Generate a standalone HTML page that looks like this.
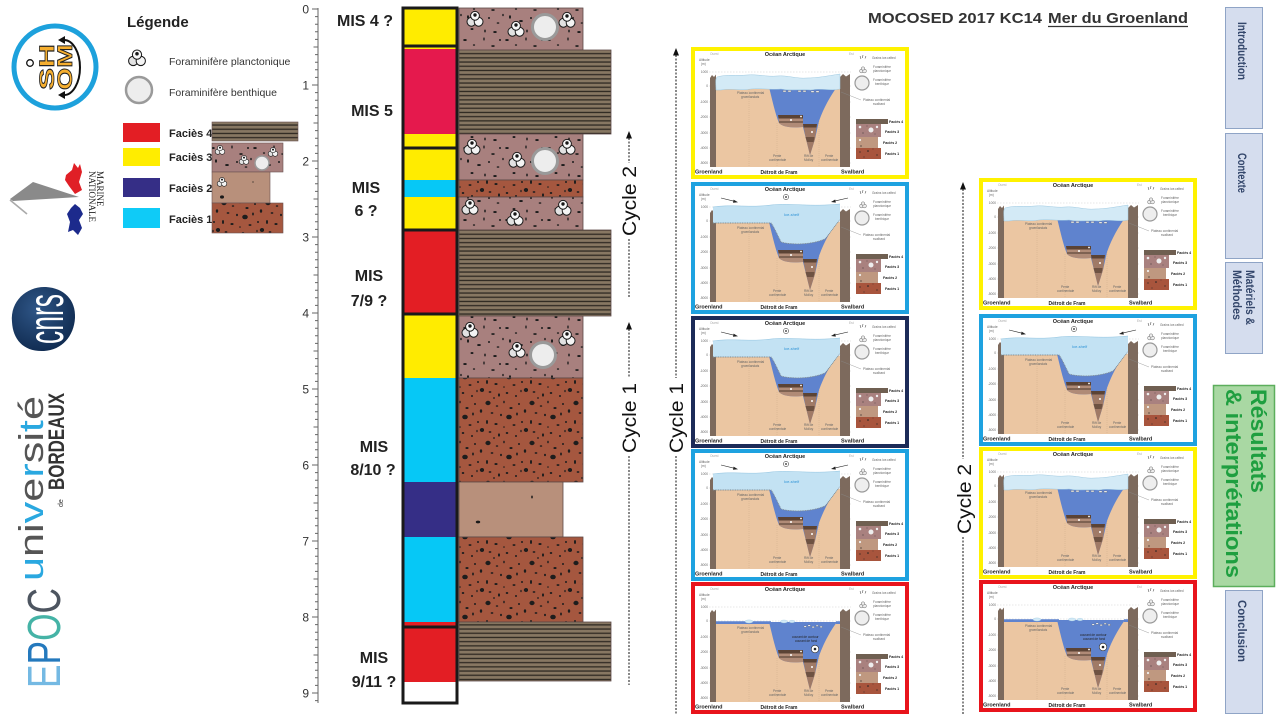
<!DOCTYPE html>
<html><head><meta charset="utf-8"><style>html,body{margin:0;padding:0;background:#fff;}svg{display:block;}</style></head>
<body>
<svg xmlns="http://www.w3.org/2000/svg" xmlns:xlink="http://www.w3.org/1999/xlink" width="1280" height="720" viewBox="0 0 1280 720" font-family="'Liberation Sans',sans-serif">
<defs>
<pattern id="st" width="10" height="4.2" patternUnits="userSpaceOnUse"><rect width="10" height="4.2" fill="#877762"/><rect y="2.6" width="10" height="1.3" fill="#2F2922"/></pattern>
<pattern id="p3" width="42" height="36" patternUnits="userSpaceOnUse"><rect width="42" height="36" fill="#A8807E"/><g fill="#1c1c1c"><ellipse cx="3" cy="4" rx="1.8" ry="1"/><ellipse cx="12" cy="9" rx="1.2" ry=".8"/><ellipse cx="22" cy="3" rx=".7" ry="1.6"/><ellipse cx="31" cy="10" rx="1.8" ry=".9"/><ellipse cx="38" cy="4" rx="1" ry="1"/><ellipse cx="6" cy="17" rx="1" ry="1.7"/><ellipse cx="17" cy="21" rx="1.9" ry="1"/><ellipse cx="27" cy="18" rx="1" ry="1"/><ellipse cx="36" cy="23" rx="1.4" ry=".8"/><ellipse cx="10" cy="29" rx="1.5" ry="1"/><ellipse cx="23" cy="31" rx=".8" ry="1.5"/><ellipse cx="33" cy="32" rx="1.8" ry="1"/><ellipse cx="41" cy="15" rx=".8" ry="1.3"/></g></pattern>
<pattern id="p1" width="44" height="40" patternUnits="userSpaceOnUse"><rect width="44" height="40" fill="#A5573F"/><g fill="#1d1d1d"><ellipse cx="4" cy="3" rx="2.6" ry="2.2"/><ellipse cx="13" cy="6" rx="1.3" ry=".8"/><ellipse cx="20" cy="2" rx=".8" ry="1.4"/><ellipse cx="27" cy="8" rx="1.6" ry="1"/><ellipse cx="35" cy="4" rx="1" ry="1"/><ellipse cx="41" cy="11" rx="1.2" ry="1.8"/><ellipse cx="8" cy="13" rx="1.4" ry=".9"/><ellipse cx="17" cy="15" rx="1" ry="1.2"/><ellipse cx="25" cy="17" rx="2.8" ry="2.3"/><ellipse cx="33" cy="14" rx=".9" ry="1.5"/><ellipse cx="3" cy="22" rx="1" ry="2"/><ellipse cx="12" cy="24" rx="1.6" ry="1"/><ellipse cx="20" cy="27" rx=".8" ry=".8"/><ellipse cx="30" cy="25" rx="1.5" ry=".9"/><ellipse cx="38" cy="22" rx="1" ry="1"/><ellipse cx="42" cy="30" rx="2.2" ry="2"/><ellipse cx="6" cy="32" rx="1.4" ry=".9"/><ellipse cx="15" cy="35" rx="1" ry="1.6"/><ellipse cx="23" cy="33" rx="1.3" ry="1"/><ellipse cx="32" cy="36" rx="1" ry="1"/><ellipse cx="37" cy="31" rx=".7" ry="1.3"/><ellipse cx="10" cy="38" rx=".9" ry=".9"/></g></pattern>
<radialGradient id="cn" cx=".4" cy=".35" r=".7"><stop offset="0" stop-color="#2F5687"/><stop offset="1" stop-color="#0F2A4F"/></radialGradient>
<g id="pf" stroke="#1a1a1a" stroke-width="1"><circle cx="-3.6" cy="2.8" r="4.4" fill="#e2e2e2"/><circle cx="3.6" cy="2.8" r="4.4" fill="#f4f4f4"/><circle cx="0" cy="-3.2" r="4.4" fill="#f8f8f8"/><circle cx="0" cy="-4" r="1.2" fill="#111"/></g>
<g id="pb">
<rect width="218" height="132" fill="#fff"/>
<path d="M18 25H160M18 39H160M18 55H160M18 70H160M18 86H160M18 101H160M18 116H160" stroke="#cfcfcf" stroke-width=".5" stroke-dasharray="1.5 1.5"/>
<rect x="22" y="40" width="128" height="80" fill="#EBC6A2"/>
<path d="M58 42V120M86 76V120M128 74V120" stroke="#c9a888" stroke-width=".4" stroke-dasharray="1 1"/>
<path d="M78 40H146C140 48 133 60 128 74L124 92L119 108L115 92L112 80C100 81 92 80 88 76C84 66 81 52 78 40Z" fill="#5F83CE"/>
<path d="M87 68H112V80C100 81 92 80 88 76Z" fill="#B08B77"/>
<path d="M87 68H112V71.5H87.6Z" fill="#5B4335"/>
<path d="M88 74H112V76H88Z" fill="#7E6252"/>
<path d="M112 77H126L124 92L119 108L115 92Z" fill="#A07A66"/>
<path d="M112 77H126L125.5 80.5H112.5Z" fill="#5B4335"/>
<path d="M114.5 90H123.5L122.6 95H116Z" fill="#6E5242"/>
<circle cx="100" cy="73" r="1" fill="#fff"/><circle cx="121" cy="85" r="1" fill="#fff"/><circle cx="110" cy="69.5" r=".9" fill="#fff"/>
<path d="M19 120V31L21 28L23 30L25 27.5V120Z" fill="#7D6A5D"/>
<path d="M149 120V30L152 27L155 29.5L159 27V120Z" fill="#7D6A5D"/>
<path d="M169 9l1 3M172 8l-.5 3M175 9l-1 2.5" stroke="#333" stroke-width=".5"/>
<g stroke="#333" stroke-width=".35" fill="#eee"><circle cx="170.5" cy="24" r="1.9"/><circle cx="173.5" cy="24" r="1.9"/><circle cx="172" cy="21.5" r="1.7"/></g>
<circle cx="171" cy="36" r="7" fill="#eee" stroke="#999" stroke-width="1.2"/>
<path d="M150 45L170 53" stroke="#888" stroke-width=".4"/>
<rect x="165" y="72" width="32" height="5" fill="#6F5F51"/>
<rect x="165" y="77" width="25" height="13" fill="#A9817F"/>
<rect x="165" y="90" width="22" height="11" fill="#BF9880"/>
<rect x="165" y="101" width="25" height="11" fill="#A8553D"/>
<circle cx="180" cy="83" r="2.5" fill="#eee"/><circle cx="169" cy="80" r="1.3" fill="#eee"/><circle cx="186" cy="80" r="1.2" fill="#eee"/><circle cx="169" cy="93" r="1.1" fill="#eee"/>
<g fill="#222"><circle cx="172" cy="86" r=".5"/><circle cx="176" cy="79" r=".4"/><circle cx="184" cy="87" r=".4"/><circle cx="170" cy="99" r=".6"/><circle cx="169" cy="105" r=".6"/><circle cx="177" cy="104" r=".8"/><circle cx="186" cy="108" r=".6"/><circle cx="173" cy="110" r=".5"/><circle cx="182" cy="102" r=".4"/></g>
</g>
<g id="ia">
<path d="M25 43C25 37 24 32 26 30C36 27 46 29 56 28C66 27 76 30 86 29C96 28 106 32 116 31C126 31 136 29 149 27V42C140 44 130 41 120 43C110 42 100 44 90 42C80 43 70 41 60 42C50 44 40 41 30 43Z" fill="#D3EAF6" stroke="#9FCAE2" stroke-width=".5"/>
<g fill="#fff" stroke="#666" stroke-width=".3"><rect x="92" y="43.5" width="3" height="1.4"/><rect x="97" y="43.5" width="3" height="1.4"/><rect x="107" y="43.5" width="3" height="1.4"/><rect x="112" y="43.5" width="3" height="1.4"/><rect x="120" y="44" width="3" height="1.4"/><rect x="125" y="44" width="3" height="1.4"/></g>
</g>
<g id="ib">
<path d="M22 25C40 22 60 26 80 23C100 21 120 25 149 22V38C145 42 140 50 134 57C120 63 100 63 90 60C86 52 83 45 80 41H22Z" fill="#C3E2F3"/>
<path d="M22 25C40 22 60 26 80 23C100 21 120 25 149 22" fill="none" stroke="#8FC3E0" stroke-width=".5"/>
<path d="M22 41H80C83 45 86 52 90 60C100 63 120 63 134 57C140 50 145 42 149 38" fill="none" stroke="#7d8a92" stroke-width=".9" stroke-dasharray="1 .7"/>
<path d="M30 16L44 19.4" stroke="#222" stroke-width=".6"/><path d="M47 20.2L42.6 17.6L42 20.7Z" fill="#222"/>
<path d="M157 16L143 19.2" stroke="#222" stroke-width=".6"/><path d="M140 20L144.2 17.5L144.8 20.6Z" fill="#222"/>
<circle cx="95" cy="15" r="2.6" fill="#fff" stroke="#222" stroke-width=".5"/><circle cx="95" cy="15" r=".9" fill="#222"/>
</g>
<g id="ic">
<path d="M25 39.3H80V42H25ZM145 39.3H149V42H145Z" fill="#5F83CE"/>
<g fill="#D3EAF6" stroke="#8fbfdc" stroke-width=".3"><ellipse cx="58" cy="39.5" rx="4" ry="1.6"/><ellipse cx="93" cy="39.5" rx="3.6" ry="1.5"/><ellipse cx="101" cy="39.5" rx="3" ry="1.3"/></g>
<g fill="#fff" stroke="#555" stroke-width=".25"><rect x="113" y="44" width="2.4" height="1.2"/><rect x="117" y="43" width="2.4" height="1.2"/><rect x="121" y="44.5" width="2.4" height="1.2"/><rect x="125" y="43.2" width="2.4" height="1.2"/><rect x="129" y="44.3" width="2.4" height="1.2"/></g>
<circle cx="124" cy="67" r="3.8" fill="#fff" stroke="#222" stroke-width=".6"/><circle cx="124" cy="67" r="1.3" fill="#222"/>
</g>
</defs>

<!-- ===== LOGOS ===== -->
<circle cx="55" cy="67" r="41" fill="#fff" stroke="#1DA1DC" stroke-width="5"/>
<circle cx="30" cy="63" r="3.3" fill="none" stroke="#111" stroke-width="1.3"/>
<text transform="translate(57,67) rotate(-90)" font-weight="bold" font-size="21" fill="#F5AE2F" stroke="#222" stroke-width=".8" text-anchor="middle"><tspan x="0" y="-3" textLength="46" lengthAdjust="spacingAndGlyphs">SH</tspan><tspan x="0" y="15" textLength="46" lengthAdjust="spacingAndGlyphs">OM</tspan></text>
<path d="M64 40A16 27.5 0 0 1 64 95" fill="none" stroke="#111" stroke-width="2"/>
<path d="M58 40L65 36L65 44Z M58 95L65 91L65 99Z" fill="#111"/>

<path d="M10 199L33 182L79 197L13 201Z" fill="#8a8a8a"/>
<path d="M10 200L27 214" stroke="#aaa" stroke-width="1.6"/>
<path d="M66 175L72 170L74 163L78 168L80 164L82 172L79 182L82 190L75 194L69 186L65 180Z" fill="#E01F26"/>
<path d="M75 204L80 208L83 214L79 220L82 228L78 235L73 230L68 232L70 222L67 214L71 208Z" fill="#1C2A8C"/>
<text transform="translate(97,171) rotate(90)" font-family="'Liberation Serif',serif" font-size="9" fill="#222"><tspan x="0" y="0">MARINE</tspan><tspan x="0" y="8">NATIONALE</tspan></text>

<path d="M12 322C10 300 28 286 46 287C64 288 76 300 75 318C74 336 62 350 44 351C24 352 13 340 12 322Z" fill="url(#cn)"/>
<text transform="translate(63,344) rotate(-90)" font-size="50" fill="#fff" textLength="50" lengthAdjust="spacingAndGlyphs">cnrs</text>

<text transform="translate(43,581) rotate(-90)" font-size="34" fill="#555" textLength="185" lengthAdjust="spacingAndGlyphs"><tspan fill="#2AA8E0">u</tspan>ni<tspan fill="#2AA8E0">v</tspan>e<tspan fill="#2AA8E0">r</tspan>si<tspan fill="#2AA8E0">t</tspan>é</text>
<text transform="translate(64,490) rotate(-90)" font-size="22" font-weight="bold" fill="#333" textLength="97" lengthAdjust="spacingAndGlyphs">BORDEAUX</text>
<text transform="translate(63,507) rotate(-90)" font-size="7" fill="#333">de</text>

<text transform="translate(60,688) rotate(-90)" font-size="46" textLength="100" lengthAdjust="spacingAndGlyphs"><tspan fill="#74B9E3">E</tspan><tspan fill="#2479BD">P</tspan><tspan fill="#45B3A6">O</tspan><tspan fill="#4D5560">C</tspan></text>

<!-- ===== LEGEND ===== -->
<text x="127" y="27" font-size="15" font-weight="bold" fill="#222">Légende</text>
<use href="#pf" transform="translate(137,58) scale(1.05)"/>
<text x="169" y="65" font-size="10.5" fill="#333">Foraminifère planctonique</text>
<circle cx="139" cy="90" r="13" fill="#EDEDED" stroke="#9A9A9A" stroke-width="2.5"/>
<text x="169" y="96" font-size="10.5" fill="#333">Foraminifère benthique</text>
<rect x="123" y="123" width="37" height="19" fill="#E31E24"/>
<rect x="123" y="148" width="37" height="18" fill="#FFED00"/>
<rect x="123" y="178" width="37" height="19" fill="#352E86"/>
<rect x="123" y="208" width="37" height="20" fill="#0FCBF7"/>
<g font-size="11" font-weight="bold" fill="#222"><text x="169" y="137">Faciès 4</text><text x="169" y="161">Faciès 3</text><text x="169" y="192">Faciès 2</text><text x="169" y="223">Faciès 1</text></g>
<g stroke="#6a5252" stroke-width=".6">
<rect x="212" y="122" width="86" height="19" fill="url(#st)"/>
<rect x="212" y="143" width="71" height="29" fill="url(#p3)"/>
<rect x="212" y="172" width="58" height="31" fill="#B8907B"/>
<rect x="212" y="203" width="71" height="30" fill="url(#p1)"/>
</g>
<use href="#pf" transform="translate(220,150) scale(.6)"/><use href="#pf" transform="translate(244,160) scale(.6)"/><use href="#pf" transform="translate(273,152) scale(.6)"/>
<circle cx="262" cy="163" r="7" fill="#EDEDED" stroke="#9A9A9A" stroke-width="1.5"/>
<use href="#pf" transform="translate(222,182) scale(.6)"/>
<ellipse cx="222" cy="197" rx="2" ry="1.6" fill="#1a1a1a"/><circle cx="253" cy="182" r=".6" fill="#1a1a1a"/>

<!-- ===== DEPTH SCALE ===== -->
<path d="M318 8V703" stroke="#666" stroke-width="1"/>
<path d="M318 9h-6m6 7.6h-3m3 7.6h-3m3 7.6h-3m3 7.6h-3m3 7.6h-4.5m4.5 7.6h-3m3 7.6h-3m3 7.6h-3m3 7.6h-3m3 7.6h-6m6 7.6h-3m3 7.6h-3m3 7.6h-3m3 7.6h-3m3 7.6h-4.5m4.5 7.6h-3m3 7.6h-3m3 7.6h-3m3 7.6h-3m3 7.6h-6m6 7.6h-3m3 7.6h-3m3 7.6h-3m3 7.6h-3m3 7.6h-4.5m4.5 7.6h-3m3 7.6h-3m3 7.6h-3m3 7.6h-3m3 7.6h-6m6 7.6h-3m3 7.6h-3m3 7.6h-3m3 7.6h-3m3 7.6h-4.5m4.5 7.6h-3m3 7.6h-3m3 7.6h-3m3 7.6h-3m3 7.6h-6m6 7.6h-3m3 7.6h-3m3 7.6h-3m3 7.6h-3m3 7.6h-4.5m4.5 7.6h-3m3 7.6h-3m3 7.6h-3m3 7.6h-3m3 7.6h-6m6 7.6h-3m3 7.6h-3m3 7.6h-3m3 7.6h-3m3 7.6h-4.5m4.5 7.6h-3m3 7.6h-3m3 7.6h-3m3 7.6h-3m3 7.6h-6m6 7.6h-3m3 7.6h-3m3 7.6h-3m3 7.6h-3m3 7.6h-4.5m4.5 7.6h-3m3 7.6h-3m3 7.6h-3m3 7.6h-3m3 7.6h-6m6 7.6h-3m3 7.6h-3m3 7.6h-3m3 7.6h-3m3 7.6h-4.5m4.5 7.6h-3m3 7.6h-3m3 7.6h-3m3 7.6h-3m3 7.6h-6m6 7.6h-3m3 7.6h-3m3 7.6h-3m3 7.6h-3m3 7.6h-4.5m4.5 7.6h-3m3 7.6h-3m3 7.6h-3m3 7.6h-3m3 7.6h-6m6 7.6h-3" stroke="#666" stroke-width="1" fill="none"/>
<g font-size="12" fill="#333" text-anchor="end"><text x="309" y="13.5">0</text><text x="309" y="89.5">1</text><text x="309" y="165.5">2</text><text x="309" y="241.5">3</text><text x="309" y="317.5">4</text><text x="309" y="393.5">5</text><text x="309" y="469.5">6</text><text x="309" y="545.5">7</text><text x="309" y="621.5">8</text><text x="309" y="697.5">9</text></g>

<!-- ===== MIS LABELS ===== -->
<g font-size="16" font-weight="bold" fill="#222" text-anchor="middle">
<text x="365" y="26">MIS 4 ?</text>
<text x="372" y="116">MIS 5</text>
<text x="366" y="193">MIS</text><text x="366" y="216">6 ?</text>
<text x="369" y="281">MIS</text><text x="369" y="306">7/9 ?</text>
<text x="374" y="452">MIS</text><text x="373" y="475">8/10 ?</text>
<text x="374" y="663">MIS</text><text x="374" y="687">9/11 ?</text>
</g>

<!-- ===== MIS COLUMN ===== -->
<rect x="403" y="8" width="54" height="38" fill="#FFEC00"/>
<rect x="403" y="46" width="54" height="3" fill="#FFEC00"/>
<rect x="403" y="49" width="54" height="85" fill="#E5194D"/>
<rect x="403" y="134" width="54" height="46" fill="#FFEC00"/>
<rect x="403" y="180" width="54" height="17" fill="#06C8F6"/>
<rect x="403" y="197" width="54" height="33" fill="#FFEC00"/>
<rect x="403" y="230" width="54" height="84" fill="#E31E24"/>
<rect x="403" y="314" width="54" height="64" fill="#FFEC00"/>
<rect x="403" y="378" width="54" height="104" fill="#06C8F6"/>
<rect x="403" y="482" width="54" height="55" fill="#352E86"/>
<rect x="403" y="537" width="54" height="85" fill="#06C8F6"/>
<rect x="403" y="622" width="54" height="60" fill="#E31E24"/>
<g fill="none" stroke="#1a1a1a" stroke-width="3">
<rect x="403" y="8" width="54" height="38"/>
<rect x="403" y="46" width="54" height="102"/>
<rect x="403" y="148" width="54" height="82"/>
<rect x="403" y="230" width="54" height="84"/>
<rect x="403" y="314" width="54" height="313"/>
<rect x="403" y="627" width="54" height="76"/>
</g>

<!-- ===== LITHOLOGY ===== -->
<g stroke="#5e4a48" stroke-width=".8">
<rect x="459" y="8" width="124" height="42" fill="url(#p3)"/>
<rect x="459" y="50" width="152" height="84" fill="url(#st)"/>
<rect x="459" y="134" width="124" height="46" fill="url(#p3)"/>
<rect x="459" y="180" width="124" height="17" fill="url(#p1)"/>
<rect x="459" y="197" width="124" height="33" fill="url(#p3)"/>
<rect x="459" y="230" width="152" height="86" fill="url(#st)"/>
<rect x="459" y="316" width="124" height="62" fill="url(#p3)"/>
<rect x="459" y="378" width="124" height="104" fill="url(#p1)"/>
<rect x="459" y="482" width="104" height="55" fill="#B8907B"/>
<rect x="459" y="537" width="124" height="85" fill="url(#p1)"/>
<rect x="459" y="622" width="152" height="59" fill="url(#st)"/>
</g>
<ellipse cx="532" cy="497" rx=".8" ry="1.5" fill="#1a1a1a"/><ellipse cx="478" cy="522" rx="2.2" ry="1.4" fill="#1a1a1a"/>
<g fill="#EDEDED" stroke="#9A9A9A" stroke-width="3">
<circle cx="545" cy="27" r="12.5"/><circle cx="545" cy="161" r="12.5"/><circle cx="543" cy="355" r="12.5"/>
</g>
<use href="#pf" transform="translate(475,19)"/><use href="#pf" transform="translate(516,29)"/><use href="#pf" transform="translate(567,20)"/>
<use href="#pf" transform="translate(472,147)"/><use href="#pf" transform="translate(567,147)"/><use href="#pf" transform="translate(517,160)"/>
<use href="#pf" transform="translate(470,207)"/><use href="#pf" transform="translate(515,218)"/><use href="#pf" transform="translate(563,208)"/>
<use href="#pf" transform="translate(470,330)"/><use href="#pf" transform="translate(567,338)"/><use href="#pf" transform="translate(517,350)"/>

<!-- ===== CYCLE ARROWS ===== -->
<g stroke="#111" stroke-width="1" stroke-dasharray="2 1.5">
<path d="M629 138V163M629 239V298M629 329V378M629 456V685"/>
<path d="M676 55V378M676 456V715"/>
<path d="M963 189V459M963 537V715"/>
</g>
<path d="M629 131L626 138.5L632 138.5Z M629 322L626 329.5L632 329.5Z M676 48L673 55.5L679 55.5Z M963 182L960 189.5L966 189.5Z" fill="#111"/>
<g font-size="19" fill="#111">
<text transform="translate(636,236) rotate(-90)" textLength="70" lengthAdjust="spacingAndGlyphs">Cycle 2</text>
<text transform="translate(636,453) rotate(-90)" textLength="70" lengthAdjust="spacingAndGlyphs">Cycle 1</text>
<text transform="translate(683,453) rotate(-90)" textLength="70" lengthAdjust="spacingAndGlyphs">Cycle 1</text>
<text transform="translate(971,534) rotate(-90)" textLength="70" lengthAdjust="spacingAndGlyphs">Cycle 2</text>
</g>

<!-- ===== TITLE ===== -->
<text x="868" y="23" font-size="15" font-weight="bold" fill="#333" textLength="174" lengthAdjust="spacingAndGlyphs">MOCOSED 2017 KC14</text>
<text x="1048" y="23" font-size="15" font-weight="bold" fill="#333" textLength="140" lengthAdjust="spacingAndGlyphs">Mer du Groenland</text>
<path d="M1048 26.5H1188" stroke="#333" stroke-width="1.2"/>

<!-- ===== PANELS LEFT ===== -->
<g transform="translate(691,47)">
<use href="#pb"/><use href="#ia"/>
<g font-size="3.2" fill="#666"><text x="19" y="8" fill="#aaa">Ouest</text><text x="158" y="8" fill="#aaa">Est</text><text x="8" y="14">Altitude</text><text x="10" y="18">(m)</text><g text-anchor="end"><text x="17" y="26">1000</text><text x="17" y="40">0</text><text x="17" y="56">-1000</text><text x="17" y="71">-2000</text><text x="17" y="87">-3000</text><text x="17" y="102">-4000</text><text x="17" y="117">-5000</text></g><text x="46" y="47">Plateau continental</text><text x="50" y="51">groenlandais</text><text x="82" y="110">Pente</text><text x="78" y="114">continentale</text><text x="113" y="110">Rift de</text><text x="113" y="114">Molloy</text><text x="134" y="110">Pente</text><text x="130" y="114">continentale</text><text x="181" y="12">Grains ice-rafted</text><text x="182" y="21">Foraminifère</text><text x="182" y="25">planctonique</text><text x="182" y="34">Foraminifère</text><text x="184" y="38">benthique</text><text x="172" y="54">Plateau continental</text><text x="182" y="58">svalbard</text></g>
<g font-weight="bold" fill="#222"><text x="94" y="9" font-size="5.5" text-anchor="middle">Océan Arctique</text><text x="4" y="126.5" font-size="5.5">Groenland</text><text x="88" y="127" font-size="5" text-anchor="middle">Détroit de Fram</text><text x="150" y="126.5" font-size="5.5">Svalbard</text><g font-size="3.6"><text x="198" y="76">Faciès 4</text><text x="194" y="86">Faciès 3</text><text x="192" y="97">Faciès 2</text><text x="194" y="108">Faciès 1</text></g></g>
<rect x="2" y="2" width="214" height="128" fill="none" stroke="#FFF200" stroke-width="4"/>
</g>

<g transform="translate(691,182)">
<use href="#pb"/><use href="#ib"/>
<text x="93" y="34" font-size="4" fill="#2D93D6">Ice-shelf</text>
<g font-size="3.2" fill="#666"><text x="19" y="8" fill="#aaa">Ouest</text><text x="158" y="8" fill="#aaa">Est</text><text x="8" y="14">Altitude</text><text x="10" y="18">(m)</text><g text-anchor="end"><text x="17" y="26">1000</text><text x="17" y="40">0</text><text x="17" y="56">-1000</text><text x="17" y="71">-2000</text><text x="17" y="87">-3000</text><text x="17" y="102">-4000</text><text x="17" y="117">-5000</text></g><text x="46" y="47">Plateau continental</text><text x="50" y="51">groenlandais</text><text x="82" y="110">Pente</text><text x="78" y="114">continentale</text><text x="113" y="110">Rift de</text><text x="113" y="114">Molloy</text><text x="134" y="110">Pente</text><text x="130" y="114">continentale</text><text x="181" y="12">Grains ice-rafted</text><text x="182" y="21">Foraminifère</text><text x="182" y="25">planctonique</text><text x="182" y="34">Foraminifère</text><text x="184" y="38">benthique</text><text x="172" y="54">Plateau continental</text><text x="182" y="58">svalbard</text></g>
<g font-weight="bold" fill="#222"><text x="94" y="9" font-size="5.5" text-anchor="middle">Océan Arctique</text><text x="4" y="126.5" font-size="5.5">Groenland</text><text x="88" y="127" font-size="5" text-anchor="middle">Détroit de Fram</text><text x="150" y="126.5" font-size="5.5">Svalbard</text><g font-size="3.6"><text x="198" y="76">Faciès 4</text><text x="194" y="86">Faciès 3</text><text x="192" y="97">Faciès 2</text><text x="194" y="108">Faciès 1</text></g></g>
<rect x="2" y="2" width="214" height="128" fill="none" stroke="#1EA2E0" stroke-width="4"/>
</g>

<g transform="translate(691,316)">
<use href="#pb"/><use href="#ib"/>
<text x="93" y="34" font-size="4" fill="#2D93D6">Ice-shelf</text>
<g font-size="3.2" fill="#666"><text x="19" y="8" fill="#aaa">Ouest</text><text x="158" y="8" fill="#aaa">Est</text><text x="8" y="14">Altitude</text><text x="10" y="18">(m)</text><g text-anchor="end"><text x="17" y="26">1000</text><text x="17" y="40">0</text><text x="17" y="56">-1000</text><text x="17" y="71">-2000</text><text x="17" y="87">-3000</text><text x="17" y="102">-4000</text><text x="17" y="117">-5000</text></g><text x="46" y="47">Plateau continental</text><text x="50" y="51">groenlandais</text><text x="82" y="110">Pente</text><text x="78" y="114">continentale</text><text x="113" y="110">Rift de</text><text x="113" y="114">Molloy</text><text x="134" y="110">Pente</text><text x="130" y="114">continentale</text><text x="181" y="12">Grains ice-rafted</text><text x="182" y="21">Foraminifère</text><text x="182" y="25">planctonique</text><text x="182" y="34">Foraminifère</text><text x="184" y="38">benthique</text><text x="172" y="54">Plateau continental</text><text x="182" y="58">svalbard</text></g>
<g font-weight="bold" fill="#222"><text x="94" y="9" font-size="5.5" text-anchor="middle">Océan Arctique</text><text x="4" y="126.5" font-size="5.5">Groenland</text><text x="88" y="127" font-size="5" text-anchor="middle">Détroit de Fram</text><text x="150" y="126.5" font-size="5.5">Svalbard</text><g font-size="3.6"><text x="198" y="76">Faciès 4</text><text x="194" y="86">Faciès 3</text><text x="192" y="97">Faciès 2</text><text x="194" y="108">Faciès 1</text></g></g>
<rect x="2" y="2" width="214" height="128" fill="none" stroke="#1C2B58" stroke-width="4"/>
</g>

<g transform="translate(691,449)">
<use href="#pb"/><use href="#ib"/>
<text x="93" y="34" font-size="4" fill="#2D93D6">Ice-shelf</text>
<g font-size="3.2" fill="#666"><text x="19" y="8" fill="#aaa">Ouest</text><text x="158" y="8" fill="#aaa">Est</text><text x="8" y="14">Altitude</text><text x="10" y="18">(m)</text><g text-anchor="end"><text x="17" y="26">1000</text><text x="17" y="40">0</text><text x="17" y="56">-1000</text><text x="17" y="71">-2000</text><text x="17" y="87">-3000</text><text x="17" y="102">-4000</text><text x="17" y="117">-5000</text></g><text x="46" y="47">Plateau continental</text><text x="50" y="51">groenlandais</text><text x="82" y="110">Pente</text><text x="78" y="114">continentale</text><text x="113" y="110">Rift de</text><text x="113" y="114">Molloy</text><text x="134" y="110">Pente</text><text x="130" y="114">continentale</text><text x="181" y="12">Grains ice-rafted</text><text x="182" y="21">Foraminifère</text><text x="182" y="25">planctonique</text><text x="182" y="34">Foraminifère</text><text x="184" y="38">benthique</text><text x="172" y="54">Plateau continental</text><text x="182" y="58">svalbard</text></g>
<g font-weight="bold" fill="#222"><text x="94" y="9" font-size="5.5" text-anchor="middle">Océan Arctique</text><text x="4" y="126.5" font-size="5.5">Groenland</text><text x="88" y="127" font-size="5" text-anchor="middle">Détroit de Fram</text><text x="150" y="126.5" font-size="5.5">Svalbard</text><g font-size="3.6"><text x="198" y="76">Faciès 4</text><text x="194" y="86">Faciès 3</text><text x="192" y="97">Faciès 2</text><text x="194" y="108">Faciès 1</text></g></g>
<rect x="2" y="2" width="214" height="128" fill="none" stroke="#1EA2E0" stroke-width="4"/>
</g>

<g transform="translate(691,582)">
<use href="#pb"/><use href="#ic"/>
<text x="101" y="56" font-size="3.2" fill="#222">courant de contour</text><text x="104" y="60" font-size="3.2" fill="#222">courant de fond</text>
<g font-size="3.2" fill="#666"><text x="19" y="8" fill="#aaa">Ouest</text><text x="158" y="8" fill="#aaa">Est</text><text x="8" y="14">Altitude</text><text x="10" y="18">(m)</text><g text-anchor="end"><text x="17" y="26">1000</text><text x="17" y="40">0</text><text x="17" y="56">-1000</text><text x="17" y="71">-2000</text><text x="17" y="87">-3000</text><text x="17" y="102">-4000</text><text x="17" y="117">-5000</text></g><text x="46" y="47">Plateau continental</text><text x="50" y="51">groenlandais</text><text x="82" y="110">Pente</text><text x="78" y="114">continentale</text><text x="113" y="110">Rift de</text><text x="113" y="114">Molloy</text><text x="134" y="110">Pente</text><text x="130" y="114">continentale</text><text x="181" y="12">Grains ice-rafted</text><text x="182" y="21">Foraminifère</text><text x="182" y="25">planctonique</text><text x="182" y="34">Foraminifère</text><text x="184" y="38">benthique</text><text x="172" y="54">Plateau continental</text><text x="182" y="58">svalbard</text></g>
<g font-weight="bold" fill="#222"><text x="94" y="9" font-size="5.5" text-anchor="middle">Océan Arctique</text><text x="4" y="126.5" font-size="5.5">Groenland</text><text x="88" y="127" font-size="5" text-anchor="middle">Détroit de Fram</text><text x="150" y="126.5" font-size="5.5">Svalbard</text><g font-size="3.6"><text x="198" y="76">Faciès 4</text><text x="194" y="86">Faciès 3</text><text x="192" y="97">Faciès 2</text><text x="194" y="108">Faciès 1</text></g></g>
<rect x="2" y="2" width="214" height="128" fill="none" stroke="#E8141C" stroke-width="4"/>
</g>

<!-- ===== PANELS RIGHT ===== -->
<g transform="translate(979,178)">
<use href="#pb"/><use href="#ia"/>
<g font-size="3.2" fill="#666"><text x="19" y="8" fill="#aaa">Ouest</text><text x="158" y="8" fill="#aaa">Est</text><text x="8" y="14">Altitude</text><text x="10" y="18">(m)</text><g text-anchor="end"><text x="17" y="26">1000</text><text x="17" y="40">0</text><text x="17" y="56">-1000</text><text x="17" y="71">-2000</text><text x="17" y="87">-3000</text><text x="17" y="102">-4000</text><text x="17" y="117">-5000</text></g><text x="46" y="47">Plateau continental</text><text x="50" y="51">groenlandais</text><text x="82" y="110">Pente</text><text x="78" y="114">continentale</text><text x="113" y="110">Rift de</text><text x="113" y="114">Molloy</text><text x="134" y="110">Pente</text><text x="130" y="114">continentale</text><text x="181" y="12">Grains ice-rafted</text><text x="182" y="21">Foraminifère</text><text x="182" y="25">planctonique</text><text x="182" y="34">Foraminifère</text><text x="184" y="38">benthique</text><text x="172" y="54">Plateau continental</text><text x="182" y="58">svalbard</text></g>
<g font-weight="bold" fill="#222"><text x="94" y="9" font-size="5.5" text-anchor="middle">Océan Arctique</text><text x="4" y="126.5" font-size="5.5">Groenland</text><text x="88" y="127" font-size="5" text-anchor="middle">Détroit de Fram</text><text x="150" y="126.5" font-size="5.5">Svalbard</text><g font-size="3.6"><text x="198" y="76">Faciès 4</text><text x="194" y="86">Faciès 3</text><text x="192" y="97">Faciès 2</text><text x="194" y="108">Faciès 1</text></g></g>
<rect x="2" y="2" width="214" height="128" fill="none" stroke="#FFF200" stroke-width="4"/>
</g>

<g transform="translate(979,314)">
<use href="#pb"/><use href="#ib"/>
<text x="93" y="34" font-size="4" fill="#2D93D6">Ice-shelf</text>
<g font-size="3.2" fill="#666"><text x="19" y="8" fill="#aaa">Ouest</text><text x="158" y="8" fill="#aaa">Est</text><text x="8" y="14">Altitude</text><text x="10" y="18">(m)</text><g text-anchor="end"><text x="17" y="26">1000</text><text x="17" y="40">0</text><text x="17" y="56">-1000</text><text x="17" y="71">-2000</text><text x="17" y="87">-3000</text><text x="17" y="102">-4000</text><text x="17" y="117">-5000</text></g><text x="46" y="47">Plateau continental</text><text x="50" y="51">groenlandais</text><text x="82" y="110">Pente</text><text x="78" y="114">continentale</text><text x="113" y="110">Rift de</text><text x="113" y="114">Molloy</text><text x="134" y="110">Pente</text><text x="130" y="114">continentale</text><text x="181" y="12">Grains ice-rafted</text><text x="182" y="21">Foraminifère</text><text x="182" y="25">planctonique</text><text x="182" y="34">Foraminifère</text><text x="184" y="38">benthique</text><text x="172" y="54">Plateau continental</text><text x="182" y="58">svalbard</text></g>
<g font-weight="bold" fill="#222"><text x="94" y="9" font-size="5.5" text-anchor="middle">Océan Arctique</text><text x="4" y="126.5" font-size="5.5">Groenland</text><text x="88" y="127" font-size="5" text-anchor="middle">Détroit de Fram</text><text x="150" y="126.5" font-size="5.5">Svalbard</text><g font-size="3.6"><text x="198" y="76">Faciès 4</text><text x="194" y="86">Faciès 3</text><text x="192" y="97">Faciès 2</text><text x="194" y="108">Faciès 1</text></g></g>
<rect x="2" y="2" width="214" height="128" fill="none" stroke="#1EA2E0" stroke-width="4"/>
</g>

<g transform="translate(979,447)">
<use href="#pb"/><use href="#ia"/>
<g font-size="3.2" fill="#666"><text x="19" y="8" fill="#aaa">Ouest</text><text x="158" y="8" fill="#aaa">Est</text><text x="8" y="14">Altitude</text><text x="10" y="18">(m)</text><g text-anchor="end"><text x="17" y="26">1000</text><text x="17" y="40">0</text><text x="17" y="56">-1000</text><text x="17" y="71">-2000</text><text x="17" y="87">-3000</text><text x="17" y="102">-4000</text><text x="17" y="117">-5000</text></g><text x="46" y="47">Plateau continental</text><text x="50" y="51">groenlandais</text><text x="82" y="110">Pente</text><text x="78" y="114">continentale</text><text x="113" y="110">Rift de</text><text x="113" y="114">Molloy</text><text x="134" y="110">Pente</text><text x="130" y="114">continentale</text><text x="181" y="12">Grains ice-rafted</text><text x="182" y="21">Foraminifère</text><text x="182" y="25">planctonique</text><text x="182" y="34">Foraminifère</text><text x="184" y="38">benthique</text><text x="172" y="54">Plateau continental</text><text x="182" y="58">svalbard</text></g>
<g font-weight="bold" fill="#222"><text x="94" y="9" font-size="5.5" text-anchor="middle">Océan Arctique</text><text x="4" y="126.5" font-size="5.5">Groenland</text><text x="88" y="127" font-size="5" text-anchor="middle">Détroit de Fram</text><text x="150" y="126.5" font-size="5.5">Svalbard</text><g font-size="3.6"><text x="198" y="76">Faciès 4</text><text x="194" y="86">Faciès 3</text><text x="192" y="97">Faciès 2</text><text x="194" y="108">Faciès 1</text></g></g>
<rect x="2" y="2" width="214" height="128" fill="none" stroke="#FFF200" stroke-width="4"/>
</g>

<g transform="translate(979,580)">
<use href="#pb"/><use href="#ic"/>
<text x="101" y="56" font-size="3.2" fill="#222">courant de contour</text><text x="104" y="60" font-size="3.2" fill="#222">courant de fond</text>
<g font-size="3.2" fill="#666"><text x="19" y="8" fill="#aaa">Ouest</text><text x="158" y="8" fill="#aaa">Est</text><text x="8" y="14">Altitude</text><text x="10" y="18">(m)</text><g text-anchor="end"><text x="17" y="26">1000</text><text x="17" y="40">0</text><text x="17" y="56">-1000</text><text x="17" y="71">-2000</text><text x="17" y="87">-3000</text><text x="17" y="102">-4000</text><text x="17" y="117">-5000</text></g><text x="46" y="47">Plateau continental</text><text x="50" y="51">groenlandais</text><text x="82" y="110">Pente</text><text x="78" y="114">continentale</text><text x="113" y="110">Rift de</text><text x="113" y="114">Molloy</text><text x="134" y="110">Pente</text><text x="130" y="114">continentale</text><text x="181" y="12">Grains ice-rafted</text><text x="182" y="21">Foraminifère</text><text x="182" y="25">planctonique</text><text x="182" y="34">Foraminifère</text><text x="184" y="38">benthique</text><text x="172" y="54">Plateau continental</text><text x="182" y="58">svalbard</text></g>
<g font-weight="bold" fill="#222"><text x="94" y="9" font-size="5.5" text-anchor="middle">Océan Arctique</text><text x="4" y="126.5" font-size="5.5">Groenland</text><text x="88" y="127" font-size="5" text-anchor="middle">Détroit de Fram</text><text x="150" y="126.5" font-size="5.5">Svalbard</text><g font-size="3.6"><text x="198" y="76">Faciès 4</text><text x="194" y="86">Faciès 3</text><text x="192" y="97">Faciès 2</text><text x="194" y="108">Faciès 1</text></g></g>
<rect x="2" y="2" width="214" height="128" fill="none" stroke="#E8141C" stroke-width="4"/>
</g>

<!-- ===== SIDEBAR ===== -->
<g fill="#D5DDEE" stroke="#8FA4C6" stroke-width="1">
<rect x="1225.5" y="7.5" width="37" height="121"/>
<rect x="1225.5" y="133.5" width="37" height="125"/>
<rect x="1225.5" y="262.5" width="37" height="91"/>
<rect x="1225.5" y="590.5" width="37" height="123"/>
</g>
<g font-family="'Liberation Sans Narrow','Liberation Sans',sans-serif" font-weight="bold" font-size="12" fill="#33466B">
<text transform="translate(1238,22) rotate(90)" textLength="58" lengthAdjust="spacingAndGlyphs">Introduction</text>
<text transform="translate(1238,153) rotate(90)" textLength="40" lengthAdjust="spacingAndGlyphs">Contexte</text>
<text transform="translate(1246,270) rotate(90)" textLength="55" lengthAdjust="spacingAndGlyphs">Matériels &amp;</text>
<text transform="translate(1233,270) rotate(90)" textLength="50" lengthAdjust="spacingAndGlyphs">Méthodes</text>
<text transform="translate(1238,600) rotate(90)" textLength="62" lengthAdjust="spacingAndGlyphs">Conclusion</text>
</g>
<rect x="1213.5" y="385.5" width="61" height="201" fill="#A9D8A3" stroke="#5CAE5C" stroke-width="1.5"/>
<g font-family="'Liberation Sans Narrow','Liberation Sans',sans-serif" font-weight="bold" font-size="22" fill="#1F9F40">
<text transform="translate(1251,389) rotate(90)" textLength="104" lengthAdjust="spacingAndGlyphs">Résultats</text>
<text transform="translate(1226,389) rotate(90)" textLength="189" lengthAdjust="spacingAndGlyphs">&amp; interprétations</text>
</g>
</svg>
</body></html>
